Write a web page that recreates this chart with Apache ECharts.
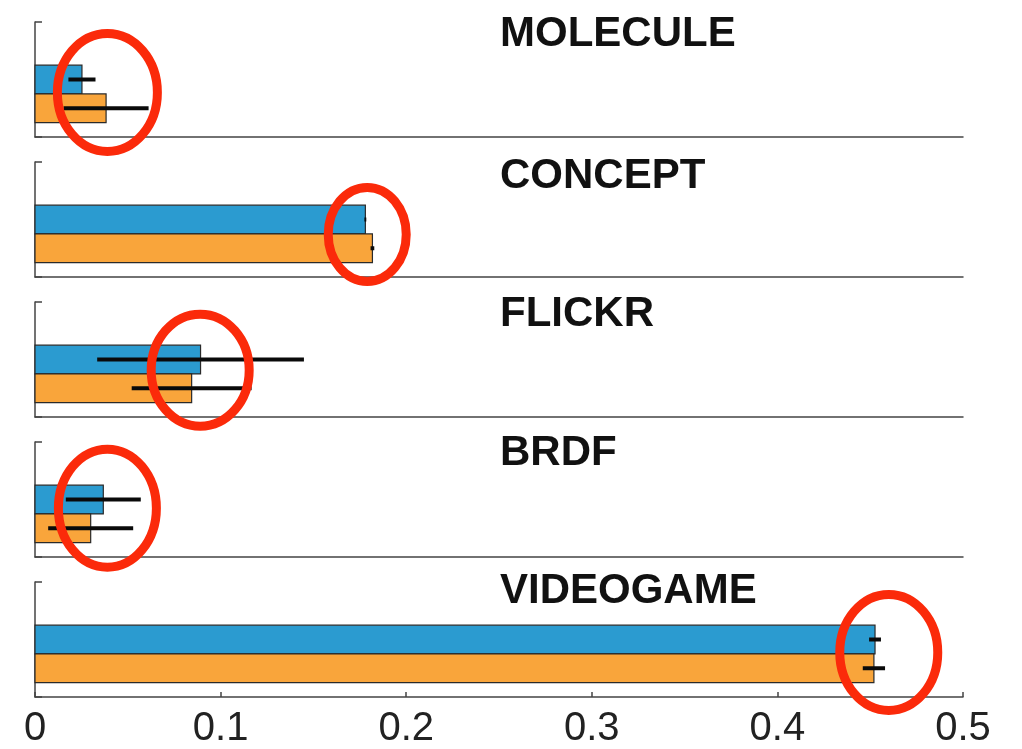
<!DOCTYPE html>
<html>
<head>
<meta charset="utf-8">
<script src="https://cdn.jsdelivr.net/npm/echarts@6/dist/echarts.min.js"></script>
<style>
  html, body { margin: 0; background: #fff; }
  #chart { width: 1022px; height: 749px; }
</style>
</head>
<body>
<div id="chart"></div>
<script>
const datasets = ['MOLECULE', 'CONCEPT', 'FLICKR', 'BRDF', 'VIDEOGAME'];
const blueValues = [0.0253, 0.1780, 0.0892, 0.0368, 0.4526];
const blueErrors = [0.0073, 0.0005, 0.0557, 0.0202, 0.0032];
const orangeValues = [0.0383, 0.1818, 0.0844, 0.0300, 0.4520];
const orangeErrors = [0.0229, 0.0010, 0.0323, 0.0229, 0.0060];
const xTicks = [0, 0.1, 0.2, 0.3, 0.4, 0.5];
// red highlight rings: centre in data units of each panel
const ringX = [0.039, 0.179, 0.089, 0.039, 0.460];
const ringY = [1.55, 1.48, 1.63, 1.70, 1.55];

// layout
const panelTops = [22, 162, 302, 442, 582];
const panelHeight = 115;
const titleTops = [13, 155, 293, 432, 570];
const ringRx = [50, 39, 49, 49, 49];
const ringRy = [59, 47, 56, 59, 58];
const BLUE = '#2b9bd0';
const ORANGE = '#f9a53b';

const chart = echarts.init(document.getElementById('chart'));

const grids = [], xAxes = [], yAxes = [], titles = [], series = [];

function barItem(color) {
  return (params, api) => {
    const v = api.value(0), y = api.value(1), e = api.value(2);
    const p0 = api.coord([0, y + 0.5]);
    const p1 = api.coord([v, y - 0.5]);
    const lo = api.coord([v - e, y]);
    const hi = api.coord([v + e, y]);
    return {
      type: 'group',
      children: [
        {
          type: 'rect',
          shape: { x: p0[0], y: p0[1], width: p1[0] - p0[0], height: p1[1] - p0[1] },
          style: { fill: color, stroke: '#2a2a2a', lineWidth: 1.2 }
        },
        {
          type: 'line',
          shape: { x1: lo[0], y1: lo[1], x2: hi[0], y2: hi[1] },
          style: { stroke: '#0a0a0a', lineWidth: 4 }
        }
      ]
    };
  };
}

datasets.forEach((name, k) => {
  const last = k === datasets.length - 1;
  grids.push({ left: 35, right: 59, top: panelTops[k], height: panelHeight });
  xAxes.push({
    gridIndex: k, type: 'value', min: xTicks[0], max: xTicks[xTicks.length - 1], interval: 0.1,
    axisLine: { show: true, lineStyle: { color: '#444', width: 1.5 } },
    axisTick: { show: last, inside: true, length: 5, lineStyle: { color: '#444', width: 1.5 } },
    axisLabel: {
      show: last, margin: 12, fontSize: 40, color: '#222',
      fontFamily: 'Liberation Sans, Arial, sans-serif',
      formatter: v => String(+v.toFixed(1))
    },
    splitLine: { show: false }
  });
  yAxes.push({
    gridIndex: k, type: 'value', min: 0, max: 4, interval: 4,
    axisLine: { show: true, lineStyle: { color: '#444', width: 1.5 } },
    axisTick: { show: true, inside: true, length: 7, lineStyle: { color: '#444', width: 1.5 } },
    axisLabel: { show: false },
    splitLine: { show: false }
  });
  titles.push({
    text: name, left: 500, top: titleTops[k], padding: 0,
    textStyle: { fontSize: 42, fontWeight: 'bold', color: '#111', fontFamily: 'Liberation Sans, Arial, sans-serif' }
  });
  series.push({
    type: 'custom', xAxisIndex: k, yAxisIndex: k, silent: true,
    renderItem: barItem(BLUE),
    data: [[blueValues[k], 2, blueErrors[k]]]
  });
  series.push({
    type: 'custom', xAxisIndex: k, yAxisIndex: k, silent: true,
    renderItem: barItem(ORANGE),
    data: [[orangeValues[k], 1, orangeErrors[k]]]
  });
  series.push({
    type: 'custom', xAxisIndex: k, yAxisIndex: k, silent: true, z: 10, clip: false,
    renderItem: (params, api) => {
      const c = api.coord([api.value(0), api.value(1)]);
      return {
        type: 'ellipse',
        shape: { cx: c[0], cy: c[1], rx: ringRx[k], ry: ringRy[k] },
        style: { fill: 'none', stroke: '#fb2a0a', lineWidth: 9 }
      };
    },
    data: [[ringX[k], ringY[k]]]
  });
});

chart.setOption({
  backgroundColor: '#fff',
  animation: false,
  title: titles,
  grid: grids,
  xAxis: xAxes,
  yAxis: yAxes,
  series: series
});
</script>
</body>
</html>
